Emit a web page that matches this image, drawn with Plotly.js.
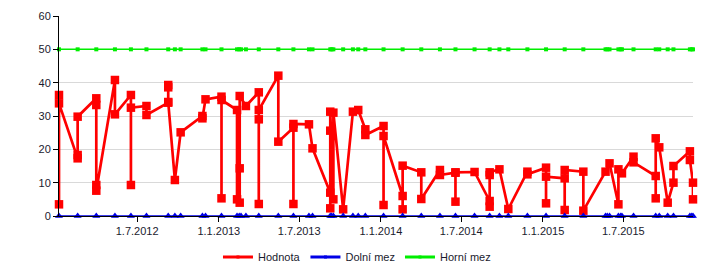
<!DOCTYPE html>
<html>
<head>
<meta charset="utf-8">
<script src="https://cdn.plot.ly/plotly-3.0.1.min.js"></script>
<style>
  html, body { margin: 0; padding: 0; background: #fff; }
  #chart { width: 715px; height: 278px; }
</style>
</head>
<body>
<div id="chart"></div>
<script>
// Hodnota samples (date of each sample, repeated when several samples share a date)
const sampleDates = [
  '2012-01-07','2012-01-07','2012-01-07',
  '2012-02-18','2012-02-18','2012-02-18',
  '2012-03-31','2012-03-31','2012-03-31','2012-03-31',
  '2012-05-12','2012-05-12',
  '2012-06-17','2012-06-17','2012-06-17',
  '2012-07-22','2012-07-22',
  '2012-09-09','2012-09-09','2012-09-09','2012-09-09',
  '2012-09-24',
  '2012-10-07',
  '2012-11-25','2012-11-25',
  '2012-12-02',
  '2013-01-07','2013-01-07','2013-01-07',
  '2013-02-11','2013-02-11',
  '2013-02-17','2013-02-17','2013-02-17',
  '2013-03-03',
  '2013-04-01','2013-04-01','2013-04-01','2013-04-01',
  '2013-05-15','2013-05-15',
  '2013-06-18','2013-06-18','2013-06-18',
  '2013-07-23',
  '2013-07-31',
  '2013-09-09','2013-09-09','2013-09-09','2013-09-09',
  '2013-09-16','2013-09-16',
  '2013-10-08',
  '2013-10-30',
  '2013-11-11',
  '2013-11-27','2013-11-27',
  '2014-01-07','2014-01-07','2014-01-07',
  '2014-02-19','2014-02-19','2014-02-19',
  '2014-04-02','2014-04-02',
  '2014-05-14','2014-05-14',
  '2014-06-18','2014-06-18','2014-06-18',
  '2014-07-31',
  '2014-09-03','2014-09-03','2014-09-03','2014-09-03',
  '2014-09-25',
  '2014-10-15',
  '2014-11-27','2014-11-27',
  '2015-01-08','2015-01-08','2015-01-08',
  '2015-02-19','2015-02-19','2015-02-19',
  '2015-04-02','2015-04-02',
  '2015-05-22',
  '2015-05-31',
  '2015-06-20','2015-06-20',
  '2015-06-28',
  '2015-07-24','2015-07-24',
  '2015-09-12','2015-09-12','2015-09-12',
  '2015-09-20',
  '2015-10-09',
  '2015-10-22','2015-10-22',
  '2015-11-28','2015-11-28',
  '2015-12-05','2015-12-05'
];
const hodnota = [
  3.5, 36.3, 33.8,
  17.3, 18.3, 29.8,
  35.3, 33.3, 9.3, 7.6,
  40.8, 30.5,
  36.3, 9.3, 32.5,
  33.0, 30.3,
  34.0, 38.6, 39.3, 34.2,
  10.8,
  25.1,
  30.0, 29.3,
  35.0,
  35.8, 5.3, 34.8,
  31.8, 5.0,
  4.0, 14.3, 36.0,
  33.0,
  37.1, 3.6, 29.0, 31.8,
  42.1, 22.3,
  26.5, 3.6, 27.6,
  27.5,
  20.3,
  7.0, 2.3, 25.6, 31.3,
  5.0, 31.0,
  2.0,
  31.3,
  31.8,
  26.0, 24.3,
  27.0, 3.3, 24.0,
  6.0, 2.0, 15.1,
  13.1, 5.1,
  13.8, 12.3,
  13.0, 4.3, 13.1,
  13.2,
  4.5, 2.8, 12.3, 13.1,
  14.0,
  2.1,
  13.3, 12.5,
  14.5, 3.8, 11.8,
  11.3, 1.8, 13.8,
  13.3, 1.6,
  13.3,
  15.8,
  3.5, 14.0,
  12.8,
  17.8, 16.1,
  12.0, 5.3, 23.3,
  20.6,
  4.0,
  10.0, 15.0,
  19.4, 16.8,
  10.0, 5.0
];

// Limit series: one point per sampling date
const limitDates = [
  '2012-01-07','2012-02-18','2012-03-31','2012-05-12','2012-06-17','2012-07-22',
  '2012-09-09','2012-09-24','2012-10-07','2012-11-25','2012-12-02',
  '2013-01-07','2013-02-11','2013-02-16','2013-02-20','2013-03-03','2013-04-01',
  '2013-05-15','2013-06-18','2013-07-23','2013-07-31','2013-09-09','2013-09-12',
  '2013-09-16','2013-10-08','2013-10-30','2013-11-11','2013-11-27',
  '2014-01-07','2014-02-19','2014-04-02','2014-05-14','2014-06-18','2014-07-31',
  '2014-09-03','2014-09-25','2014-10-15','2014-11-27',
  '2015-01-08','2015-02-19','2015-04-02','2015-05-22','2015-05-26','2015-05-31',
  '2015-06-20','2015-06-25','2015-06-28','2015-07-24','2015-09-12','2015-09-20',
  '2015-10-09','2015-10-22','2015-11-28','2015-12-02','2015-12-05'
];
const dolniMez = [
  0,0,0,0,0,0, 0,0,0,0,0, 0,0,0,0,0,0, 0,0,0,0,0,0, 0,0,0,0,0,
  0,0,0,0,0,0, 0,0,0,0, 0,0,0,0,0,0, 0,0,0,0,0,0, 0,0,0,0,0
];
const horniMez = [
  50,50,50,50,50,50, 50,50,50,50,50, 50,50,50,50,50,50, 50,50,50,50,50,50, 50,50,50,50,50,
  50,50,50,50,50,50, 50,50,50,50, 50,50,50,50,50,50, 50,50,50,50,50,50, 50,50,50,50,50
];

const xTickVals = ['2012-07-01','2013-01-01','2013-07-01','2014-01-01','2014-07-01','2015-01-01','2015-07-01'];
const xTickText = ['1.7.2012','1.1.2013','1.7.2013','1.1.2014','1.7.2014','1.1.2015','1.7.2015'];
const seriesNames = ['Hodnota','Dolní mez','Horní mez'];

const RED = '#ff0000', BLUE = '#0000e6', GREEN = '#00ee00';
const FONT = 'Liberation Sans, Arial, sans-serif';

const traces = [
  { x: limitDates, y: horniMez, type: 'scatter', mode: 'lines+markers', showlegend: false,
    line: { color: GREEN, width: 1.5 }, marker: { symbol: 'square', size: 4, color: GREEN }, cliponaxis: false },
  { x: sampleDates, y: hodnota, type: 'scatter', mode: 'lines+markers', showlegend: false,
    line: { color: RED, width: 2.7 }, marker: { symbol: 'square', size: 8.5, color: RED }, cliponaxis: false },
  { x: limitDates, y: dolniMez, type: 'scatter', mode: 'lines+markers', showlegend: false,
    line: { color: BLUE, width: 1.5 }, marker: { symbol: 'triangle-up', size: 7, color: BLUE }, cliponaxis: false },
  // legend entries
  { x: [null], y: [null], type: 'scatter', mode: 'lines+markers', name: seriesNames[0],
    line: { color: RED, width: 3 }, marker: { symbol: 'square', size: 3, color: RED } },
  { x: [null], y: [null], type: 'scatter', mode: 'lines+markers', name: seriesNames[1],
    line: { color: BLUE, width: 3 }, marker: { symbol: 'square', size: 3, color: BLUE } },
  { x: [null], y: [null], type: 'scatter', mode: 'lines+markers', name: seriesNames[2],
    line: { color: GREEN, width: 3 }, marker: { symbol: 'square', size: 3, color: GREEN } }
];

const layout = {
  width: 715, height: 278,
  margin: { l: 59, r: 22, t: 16, b: 62, autoexpand: false },
  paper_bgcolor: '#ffffff', plot_bgcolor: '#ffffff',
  font: { family: FONT, size: 11, color: '#1a1a2e' },
  showlegend: true,
  legend: {
    orientation: 'h', x: 0.47, xanchor: 'center', y: -0.205, yanchor: 'middle',
    font: { family: FONT, size: 11, color: '#1a1a2e' }, itemwidth: 30, traceorder: 'normal'
  },
  xaxis: {
    type: 'date',
    range: [sampleDates[0], sampleDates[sampleDates.length - 1]],
    tickvals: xTickVals, ticktext: xTickText,
    showgrid: false, zeroline: false,
    showline: true, linecolor: '#000', linewidth: 1,
    ticks: 'outside', ticklen: 5, tickcolor: '#000', tickwidth: 1,
    tickfont: { family: FONT, size: 11, color: '#1a1a2e' }
  },
  yaxis: {
    range: [0, 60], dtick: 10, tick0: 0,
    showgrid: true, gridcolor: '#d9d9d9', gridwidth: 1, zeroline: false,
    showline: true, linecolor: '#000', linewidth: 1,
    ticks: 'outside', ticklen: 5, tickcolor: '#000', tickwidth: 1,
    tickfont: { family: FONT, size: 11, color: '#1a1a2e' }
  }
};

Plotly.newPlot('chart', traces, layout, { displayModeBar: false, staticPlot: true });
</script>
</body>
</html>
